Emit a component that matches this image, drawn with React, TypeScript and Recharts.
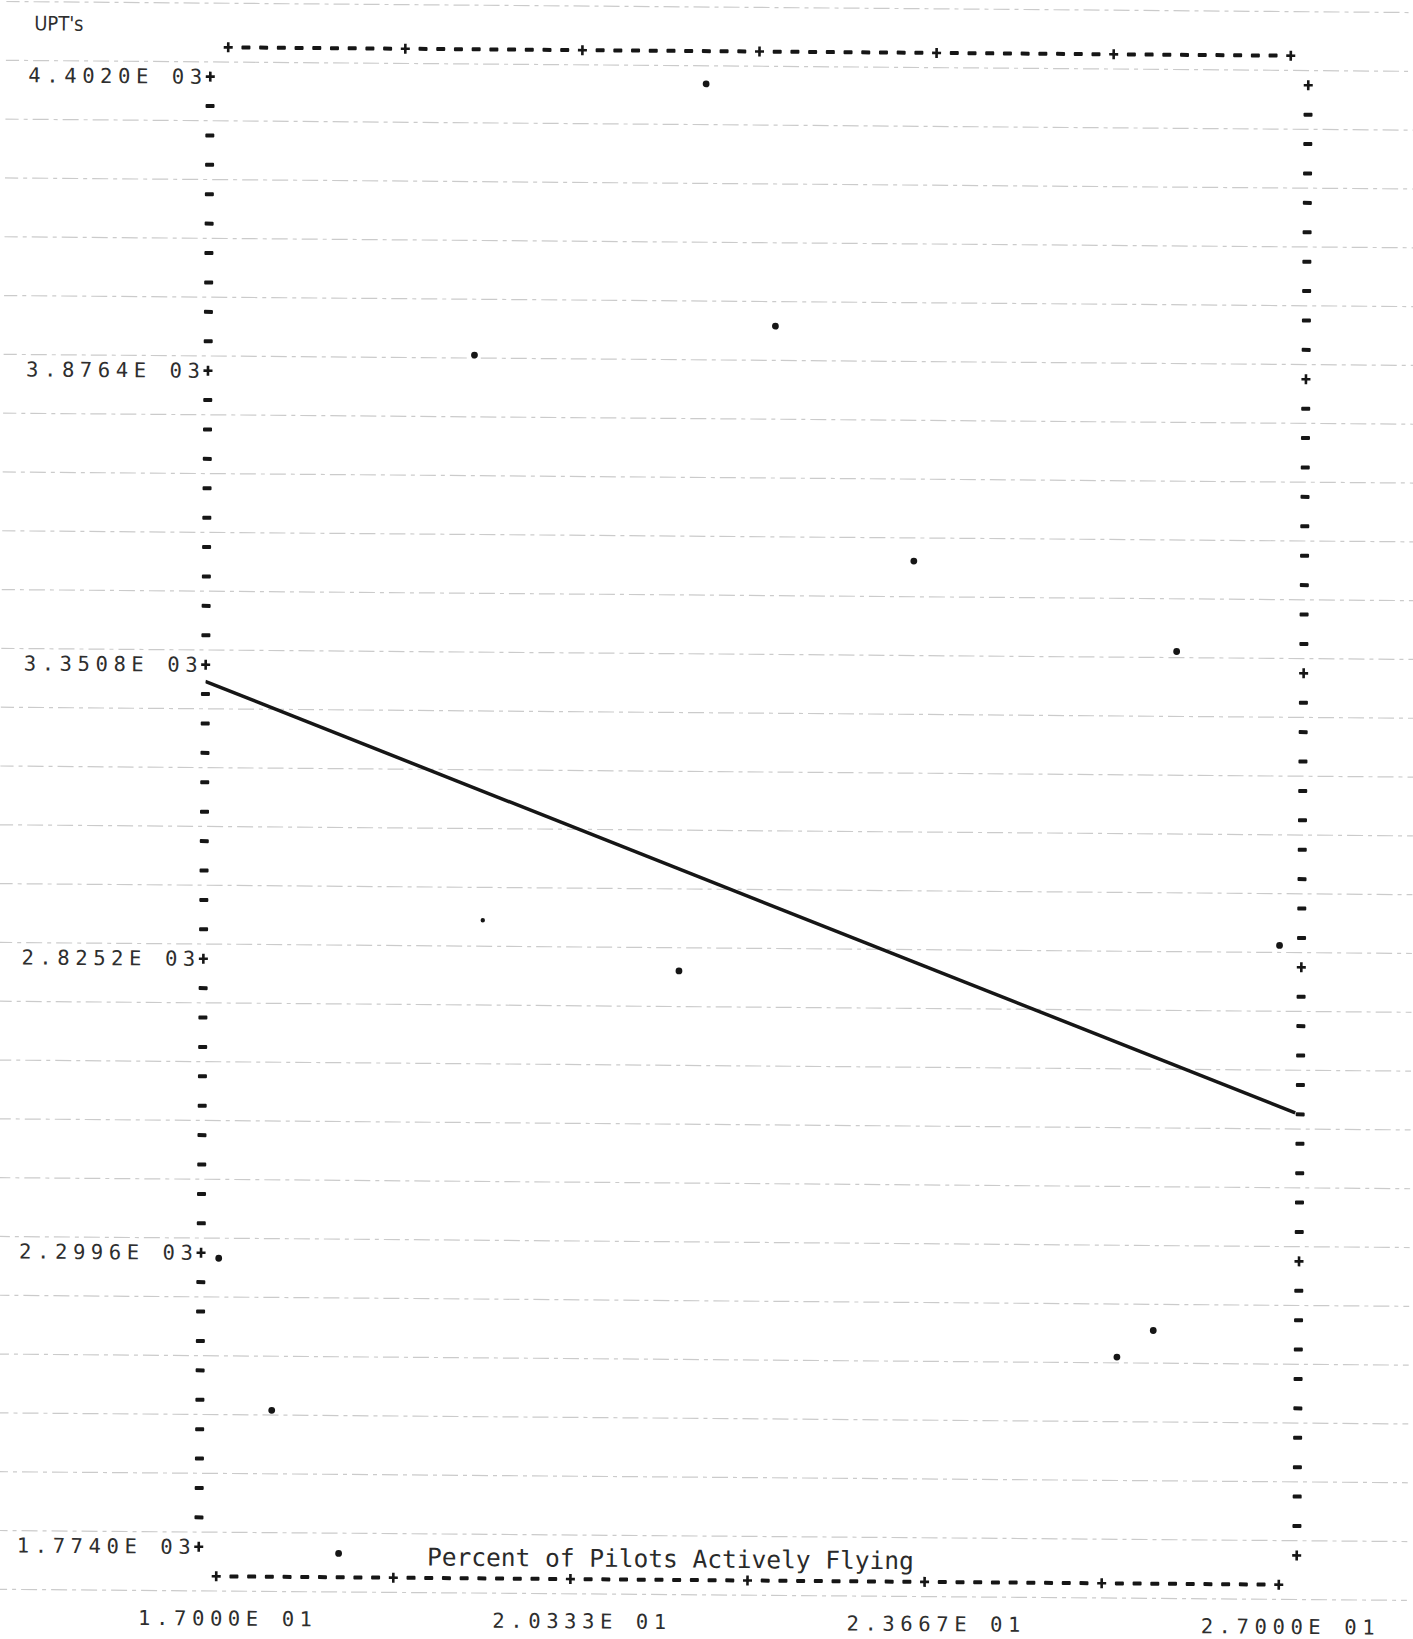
import { ScatterChart, Scatter, XAxis, YAxis, ReferenceLine } from 'recharts'

// UPT's vs percent of pilots actively flying (line printer plot)
const yTickValues = [1774.0, 2299.6, 2825.2, 3350.8, 3876.4, 4402.0]
const yTickLabels = ['1.7740E 03', '2.2996E 03', '2.8252E 03', '3.3508E 03', '3.8764E 03', '4.4020E 03']
const xTickValues = [17.0, 20.333, 23.667, 27.0]
const xTickLabels = ['1.7000E 01', '2.0333E 01', '2.3667E 01', '2.7000E 01']

const pctFlying = [21.5, 22.17, 19.34, 23.49, 25.97, 21.31, 26.96, 17.51, 25.8, 25.46, 18.15, 17.0]
const upts = [4396, 3964, 3908, 3546, 3388, 2810, 2864, 2019, 2174, 2126, 1764, 2290]

// lighter printed point
const faintPct = [19.46]
const faintUpt = [2898]

// fitted line end points
const fitPct = [16.83, 27.12]
const fitUpt = [3321, 2565]

const points = pctFlying.map((x, i) => ({ x, y: upts[i] }))
const faintPoints = faintPct.map((x, i) => ({ x, y: faintUpt[i] }))
const fitLine = fitPct.map((x, i) => ({ x, y: fitUpt[i] }))

// printer grid: 60 columns, 50 rows
const xMin = 17
const xMax = 27
const yMin = 1774.0
const yMax = 4402.0
const colStep = (xMax - xMin) / 60
const rowStep = (yMax - yMin) / 50
const colTicks = Array.from({ length: 61 }, (_, k) => xMin + k * colStep)
const rowTicks = Array.from({ length: 51 }, (_, k) => yMin + k * rowStep)
const paperRows = Array.from({ length: 28 }, (_, k) => yMax - (k * 2 - 2.5) * rowStep)

const xDomain = [xMin - colStep, xMax + colStep]
const yDomain = [yMin - rowStep, yMax + rowStep]

const INK = '#161616'
const LABEL = '#2e2e2e'
const MONO = '"DejaVu Sans Mono", "Liberation Mono", monospace'
const SANS = '"DejaVu Sans Condensed", "DejaVu Sans", sans-serif'

function Mark({ x, y, plus }: { x: number; y: number; plus: boolean }) {
  if (plus) {
    return (
      <g fill={INK}>
        <rect x={x - 4.5} y={y - 1.3} width={9} height={2.6} />
        <rect x={x - 1.3} y={y - 5} width={2.6} height={10} />
      </g>
    )
  }
  return <rect x={x - 4.5} y={y - 2} width={9} height={4} rx={1} fill={INK} />
}

function findLabel(values: number[], labels: string[], v: number, tol: number) {
  const i = values.findIndex((t) => Math.abs(t - v) < tol)
  return i >= 0 ? labels[i] : null
}

function ColTick(props: any, withLabels: boolean) {
  const { x, y, payload } = props
  const k = Math.round((payload.value - xMin) / colStep)
  const label = withLabels ? findLabel(xTickValues, xTickLabels, payload.value, 0.01) : null
  return (
    <g>
      <Mark x={x} y={y} plus={k % 10 === 0} />
      {label && (
        <text x={x + 12} y={y + 42} dy="0.35em" textAnchor="middle" fontFamily={MONO} fontSize={20.5} letterSpacing={5.6} fill={LABEL}>
          {label}
        </text>
      )}
    </g>
  )
}

function RowTick(props: any, withLabels: boolean) {
  const { x, y, payload } = props
  const k = Math.round((payload.value - yMin) / rowStep)
  const label = withLabels ? findLabel(yTickValues, yTickLabels, payload.value, 1) : null
  return (
    <g>
      <Mark x={x} y={y} plus={k % 10 === 0} />
      {label && (
        <text x={x - 2.5} y={y} dy="0.35em" textAnchor="end" fontFamily={MONO} fontSize={20.5} letterSpacing={5.6} fill={LABEL}>
          {label}
        </text>
      )}
    </g>
  )
}

export default function App() {
  return (
    <div style={{ position: 'absolute', left: 0, top: 0, width: 1413, height: 1639, background: '#fff', overflow: 'hidden' }}>
      {/* the scanned printout sits slightly askew */}
      <div style={{ position: 'absolute', left: 0, top: 0, width: 1413, height: 1639, transform: 'rotate(0.45deg)', transformOrigin: '752px 816px' }}>
        <ScatterChart width={1413} height={1639} margin={{ top: 50.5, left: 203.5, right: 109.5, bottom: 57.5 }}>
          <XAxis xAxisId="b" dataKey="x" type="number" orientation="bottom" domain={xDomain} ticks={colTicks} interval={0}
            height={1} tickSize={0} tickMargin={0} axisLine={false} tickLine={false} allowDataOverflow
            tick={(p: any) => ColTick(p, true)} />
          <XAxis xAxisId="t" dataKey="x" type="number" orientation="top" domain={xDomain} ticks={colTicks} interval={0}
            height={1} tickSize={0} tickMargin={0} axisLine={false} tickLine={false} allowDataOverflow
            tick={(p: any) => ColTick(p, false)} />
          <YAxis yAxisId="l" dataKey="y" type="number" orientation="left" domain={yDomain} ticks={rowTicks} interval={0}
            width={1} tickSize={0} tickMargin={0} axisLine={false} tickLine={false} allowDataOverflow
            tick={(p: any) => RowTick(p, true)} />
          <YAxis yAxisId="r" dataKey="y" type="number" orientation="right" domain={yDomain} ticks={rowTicks} interval={0}
            width={1} tickSize={0} tickMargin={0} axisLine={false} tickLine={false} allowDataOverflow
            tick={(p: any) => RowTick(p, false)} />

          {paperRows.map((v, i) => (
            <ReferenceLine key={i} xAxisId="b" yAxisId="l" ifOverflow="visible"
              segment={[{ x: 14.6, y: v }, { x: 28.6, y: v }]}
              stroke="#cbcbcb" strokeWidth={1.2} strokeDasharray="16 5 4 5" />
          ))}

          <Scatter data={fitLine} xAxisId="t" yAxisId="r" isAnimationActive={false}
            line={{ stroke: INK, strokeWidth: 3.5 }} shape={() => <g />} />
          <Scatter data={points} xAxisId="b" yAxisId="l" isAnimationActive={false}
            shape={(p: any) => <circle cx={p.cx} cy={p.cy} r={3.4} fill={INK} />} />
          <Scatter data={faintPoints} xAxisId="b" yAxisId="l" isAnimationActive={false}
            shape={(p: any) => <circle cx={p.cx} cy={p.cy} r={2.2} fill={INK} />} />
        </ScatterChart>

        <div style={{ position: 'absolute', left: 28, top: 19, fontFamily: SANS, fontSize: 20, color: LABEL, lineHeight: 1 }}>
          UPT's
        </div>
        <div style={{ position: 'absolute', left: 433, top: 1548, fontFamily: MONO, fontSize: 24.5, color: '#2a2a2a', lineHeight: 1, whiteSpace: 'nowrap' }}>
          Percent of Pilots Actively Flying
        </div>
      </div>
    </div>
  )
}
